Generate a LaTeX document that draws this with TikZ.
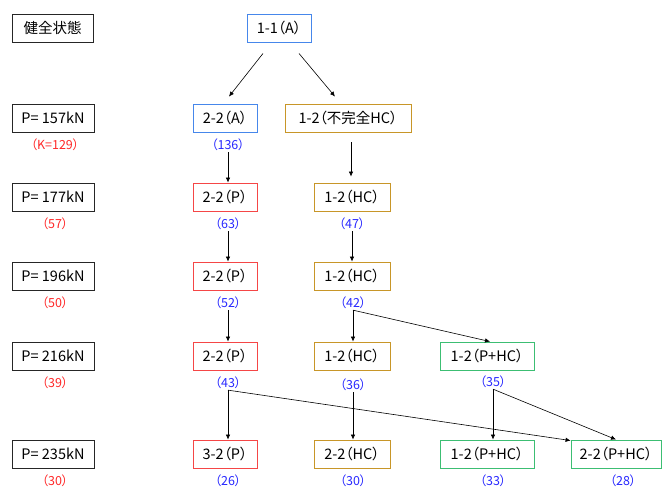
\documentclass[tikz,border=0pt]{standalone}
\usepackage{fontspec}
\setmainfont[RawFeature=+palt]{Noto Sans CJK JP}
\usetikzlibrary{arrows.meta, positioning}

\definecolor{boxblue}{RGB}{70,135,235}
\definecolor{boxred}{RGB}{245,70,70}
\definecolor{boxgold}{RGB}{200,150,40}
\definecolor{boxgreen}{RGB}{60,190,115}
\definecolor{numblue}{RGB}{40,40,255}
\definecolor{numred}{RGB}{255,40,40}

\tikzset{
  state/.style={draw, line width=0.9pt, fill=white, minimum height=28pt, inner sep=0pt,
    font=\fontsize{14.5}{16}\selectfont},
  load/.style={state, draw=black!85, minimum width=82pt},
  caseA/.style={state, draw=boxblue},
  caseP/.style={state, draw=boxred, minimum width=64pt},
  caseHC/.style={state, draw=boxgold, minimum width=76pt},
  casePHC/.style={state, draw=boxgreen},
  num/.style={inner sep=1pt, text=numblue, font=\fontsize{12.5}{14}\selectfont},
  knum/.style={num, text=numred},
  flow/.style={-{Latex[length=5pt,width=4.5pt]}, line width=0.6pt, black}
}

\begin{document}
\begin{tikzpicture}[x=1pt, y=-1pt]
\useasboundingbox (0,0) rectangle (662,489);

    % Load levels (left column)
    \node[load, minimum width=81pt] (health) at (52.5,28) {健全状態};
    \node[load] (p157) at (53,118) {P= 157kN};
    \node[load] (p177) at (53,197) {P= 177kN};
    \node[load] (p196) at (53,276) {P= 196kN};
    \node[load] (p216) at (53,356) {P= 216kN};
    \node[load] (p235) at (53,454) {P= 235kN};
    \node[knum] (k157) at (55,145) {（K=129）};
    \node[knum] (k177) at (55,224) {（57）};
    \node[knum] (k196) at (55,303) {（50）};
    \node[knum] (k216) at (55,383) {（39）};
    \node[knum] (k235) at (55,481) {（30）};

    % Initial state
    \node[caseA, minimum width=64pt] (a11) at (279,28) {1-1（A）};

    % Row P=157kN
    \node[caseA, minimum width=64pt] (a22) at (225,118) {2-2（A）};
    \node[num] (n136) at (228,145) {（136）};
    \node[caseHC, minimum width=126pt] (hc12i) at (348,118) {1-2（不完全HC）};

    % Row P=177kN
    \node[caseP] (p22a) at (225,197) {2-2（P）};
    \node[num] (n63) at (228,224) {（63）};
    \node[caseHC] (hc12a) at (352,197) {1-2（HC）};
    \node[num] (n47) at (352,224) {（47）};

    % Row P=196kN
    \node[caseP] (p22b) at (225,276) {2-2（P）};
    \node[num] (n52) at (228,303) {（52）};
    \node[caseHC] (hc12b) at (352,276) {1-2（HC）};
    \node[num] (n42) at (353,303) {（42）};

    % Row P=216kN
    \node[caseP] (p22c) at (225,356) {2-2（P）};
    \node[num] (n43) at (228,383) {（43）};
    \node[caseHC] (hc12c) at (352,356) {1-2（HC）};
    \node[num] (n36) at (353,385) {（36）};
    \node[casePHC, minimum width=94pt] (phc12a) at (487,356) {1-2（P+HC）};
    \node[num] (n35) at (493,382) {（35）};

    % Row P=235kN
    \node[caseP] (p32) at (225,454) {3-2（P）};
    \node[num] (n26) at (228,481) {（26）};
    \node[caseHC] (hc22) at (352,454) {2-2（HC）};
    \node[num] (n30) at (353,481) {（30）};
    \node[casePHC, minimum width=94pt] (phc12b) at (487,454) {1-2（P+HC）};
    \node[num] (n33) at (493,481) {（33）};
    \node[casePHC, minimum width=90pt] (phc22) at (616,454) {2-2（P+HC）};
    \node[num] (n28) at (623,481) {（28）};

    % Branches from the initial state
    \draw[flow] ([xshift=-16pt, yshift=-11pt]a11.south) -- ([xshift=4pt, yshift=7pt]a22.north);
    \draw[flow] ([xshift=20pt, yshift=-11pt]a11.south) -- ([xshift=-13pt, yshift=7pt]hc12i.north);

    % Column 2-2 / 3-2
    \draw[flow] (n136.south) -- (n136.south |- p22a.north);
    \draw[flow] (n63.south) -- (n63.south |- p22b.north);
    \draw[flow] (n52.south) -- (n52.south |- p22c.north);
    \draw[flow] (n43.south) -- (n43.south |- p32.north);
    \draw[flow] (n43.south) -- ([yshift=-1pt]phc22.north west);

    % Column 1-2 (HC)
    \draw[flow] ([xshift=3pt, yshift=-10pt]hc12i.south) -- ([xshift=-1pt, yshift=6pt]hc12a.north);
    \draw[flow] (n47.south) -- (n47.south |- hc12b.north);
    \draw[flow] (n42.south) -- (n42.south |- hc12c.north);
    \draw[flow] (n42.south) -- ([xshift=3pt]phc12a.north);
    \draw[flow] (n36.south) -- (n36.south |- hc22.north);

    % Column P+HC
    \draw[flow] (n35.south) -- (n35.south |- phc12b.north);
    \draw[flow] (n35.south) -- (phc22.north);

\end{tikzpicture}
\end{document}
